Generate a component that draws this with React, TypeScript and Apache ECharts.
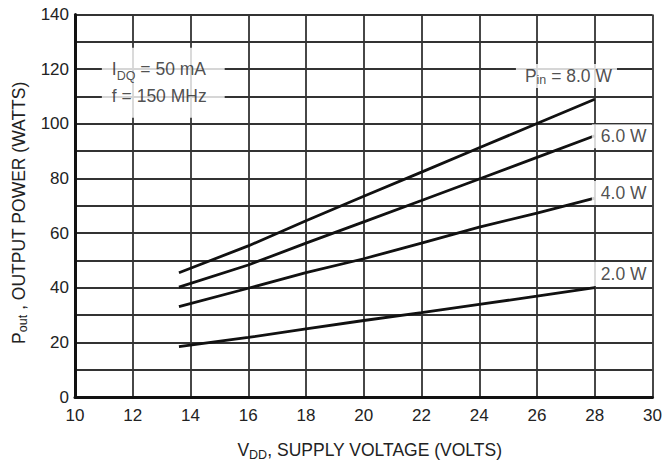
import React, { useEffect, useRef } from "react";
import * as echarts from "echarts";

const voltages = [13.6, 16, 18, 20, 22, 24, 26, 28];
const pin8 = [45.5, 55.3, 64.5, 73.5, 82.3, 91.2, 100.1, 109.0];
const pin6 = [40.2, 48.3, 56.3, 64.1, 71.9, 79.8, 87.7, 95.6];
const pin4 = [33.1, 39.8, 45.5, 50.6, 56.3, 62.2, 67.3, 72.8];
const pin2 = [18.4, 21.8, 24.9, 28.0, 30.9, 33.9, 36.9, 40.0];

const seriesNames = ["8.0 W", "6.0 W", "4.0 W", "2.0 W"];
const seriesValues = [pin8, pin6, pin4, pin2];

// label anchors (data coordinates) : [x, y, text]
const curveLabels: [number, number, string][] = [
  [25.27, 117.5, "{a|P}{s|in}{a| = 8.0 W}"],
  [27.9, 95.4, "{a|6.0 W}"],
  [27.9, 74.7, "{a|4.0 W}"],
  [27.9, 45, "{a|2.0 W}"],
];
const conditionLabel: [number, number, string] = [
  10.93,
  115,
  "{a|I}{s|DQ}{a| = 50 mA}\n{a|f = 150 MHz}",
];

const FONT = "'Liberation Sans', Arial, sans-serif";
const TXT = "#222";

const rich = {
  a: { fontFamily: FONT, fontSize: 17.5, color: TXT, lineHeight: 22, verticalAlign: "middle" as const },
  s: { fontFamily: FONT, fontSize: 12.5, color: TXT, lineHeight: 16, verticalAlign: "bottom" as const },
};

export default function App() {
  const ref = useRef<HTMLDivElement>(null);
  useEffect(() => {
    if (!ref.current) return;
    const chart = echarts.init(ref.current, undefined, { renderer: "svg" });
    const lineSeries = seriesValues.map((vals, i) => ({
      type: "line" as const,
      name: seriesNames[i],
      data: voltages.map((v, j) => [v, vals[j]]),
      showSymbol: false,
      symbol: "none",
      lineStyle: { color: "#111", width: 2.8 },
      z: 3,
    }));
    const labelSeries = {
      type: "scatter" as const,
      symbolSize: 0,
      z: 5,
      silent: true,
      data: curveLabels.map(([x, y, t]) => ({
        value: [x, y],
        label: {
          show: true,
          position: "inside" as const,
          align: "left" as const,
          verticalAlign: "middle" as const,
          formatter: t,
          rich,
          backgroundColor: "#fff",
          padding: [1, 5, 1, 9],
        },
      })),
    };
    const condSeries = {
      type: "scatter" as const,
      symbolSize: 0,
      z: 5,
      silent: true,
      data: [
        {
          value: [conditionLabel[0], conditionLabel[1]],
          label: {
            show: true,
            position: "inside" as const,
            align: "left" as const,
            verticalAlign: "middle" as const,
            formatter: conditionLabel[2],
            rich: {
              a: { ...rich.a, lineHeight: 27 },
              s: { ...rich.s, lineHeight: 20 },
            },
            backgroundColor: "#fff",
            padding: [8, 18, 8, 10],
          },
        },
      ],
    };
    chart.setOption({
      animation: false,
      backgroundColor: "#fff",
      grid: {
        left: 75,
        right: 15.5,
        top: 14.5,
        bottom: 65,
        containLabel: false,
        outerBoundsMode: "none",
      },
      xAxis: {
        type: "value",
        min: 10,
        max: 30,
        interval: 2,
        axisLine: { show: true, onZero: false, lineStyle: { color: "#111", width: 3 } },
        axisTick: { show: false },
        axisLabel: { color: TXT, fontFamily: FONT, fontSize: 17, margin: 10 },
        splitLine: { show: true, lineStyle: { color: "#333", width: 1.8 } },
        name: "{a|V}{s|DD}{a|, SUPPLY VOLTAGE (VOLTS)}",
        nameLocation: "middle",
        nameGap: 42,
        nameTextStyle: {
          rich: {
            a: { ...rich.a, fontSize: 17.5, lineHeight: 22 },
            s: { ...rich.s, fontSize: 12.5, lineHeight: 16 },
          },
          padding: [0, 0, 0, 12],
        },
      },
      yAxis: {
        type: "value",
        min: 0,
        max: 140,
        interval: 10,
        axisLine: { show: true, onZero: false, lineStyle: { color: "#111", width: 3 } },
        axisTick: { show: false },
        axisLabel: {
          color: TXT,
          fontFamily: FONT,
          fontSize: 17,
          margin: 6,
          formatter: (v: number) => (v % 20 === 0 ? String(v) : ""),
        },
        splitLine: { show: true, lineStyle: { color: "#333", width: 1.8 } },
        name: "{a|P}{s|out}{a| , OUTPUT POWER (WATTS)}",
        nameLocation: "middle",
        nameRotate: 90,
        nameGap: 44,
        nameTextStyle: {
          rich: {
            a: { ...rich.a, fontSize: 17.5, lineHeight: 22 },
            s: { ...rich.s, fontSize: 12.5, lineHeight: 16 },
          },
          padding: [0, 14, 0, 0],
        },
      },
      series: [...lineSeries, labelSeries, condSeries],
    });
    return () => chart.dispose();
  }, []);
  return <div ref={ref} style={{ width: 668, height: 462, position: "absolute", left: 0, top: 0 }} />;
}
